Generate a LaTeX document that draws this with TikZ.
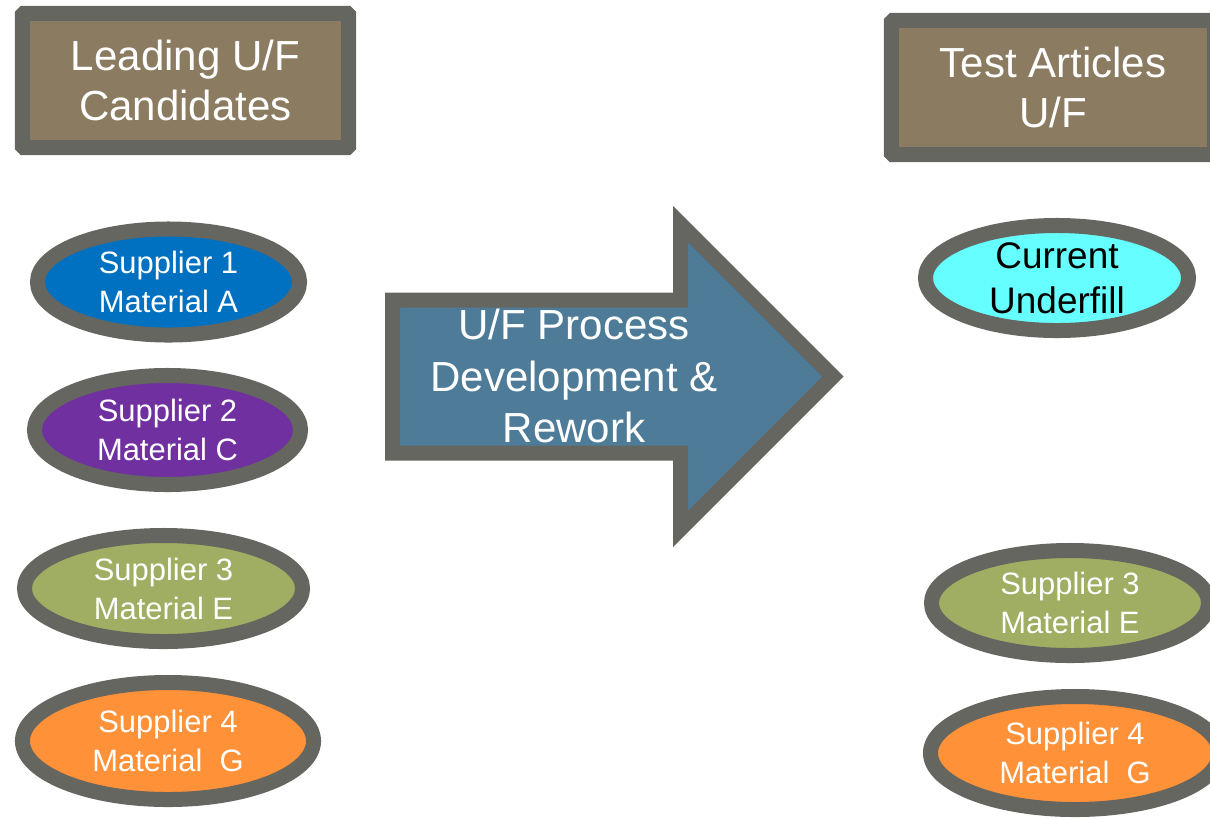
\documentclass[tikz,border=0pt]{standalone}
\usepackage{fontspec}
\setmainfont{Liberation Sans}
\usetikzlibrary{shapes.geometric}

\definecolor{edgegray}{RGB}{102,102,96}
\definecolor{headbrown}{RGB}{139,123,97}
\definecolor{flowblue}{RGB}{78,124,152}
\definecolor{supblue}{RGB}{0,112,192}
\definecolor{suppurple}{RGB}{112,48,160}
\definecolor{supolive}{RGB}{159,174,98}
\definecolor{suporange}{RGB}{255,145,56}
\definecolor{curcyan}{RGB}{102,255,255}

\begin{document}
\begin{tikzpicture}[x=0.025cm, y=-0.025cm,
    header/.style={draw=edgegray, fill=headbrown, line width=0.375cm, rounded corners=1pt,
        text=white, align=center, minimum width=#1, minimum height=3.35cm,
        font=\fontsize{29.9}{35.6}\selectfont},
    oval/.style={ellipse, draw=edgegray, fill=#1, line width=0.375cm, inner sep=-0.3cm,
        text=white, align=center, font=\fontsize{22}{27.7}\selectfont}]
    \useasboundingbox (0,0) rectangle (1210,818);

    % column headings
    \node[header=8.15cm] (lead) at (185.5,80.5) {Leading U/F\\Candidates};
    \node[header=8.075cm] (test) at (1053,87.5) {Test Articles\\U/F};

    % candidates
    \node[oval=supblue, minimum width=6.55cm, minimum height=2.65cm] (s1) at (168.5,282) {Supplier 1\\Material A};
    \node[oval=suppurple, minimum width=6.65cm, minimum height=2.725cm] (s2) at (167.5,430) {Supplier 2\\Material C};
    \node[oval=supolive, minimum width=6.95cm, minimum height=2.65cm] (s3) at (163.5,588.5) {Supplier 3\\Material E};
    \node[oval=suporange, minimum width=7.275cm, minimum height=2.925cm] (s4) at (168,741) {Supplier 4\\Material~~G};

    % process arrow
    \draw[draw=edgegray, fill=flowblue, line width=0.375cm] (392.5,300) -- (680.5,300) -- (680.5,224)
        -- (833,376.5) -- (680.5,529) -- (680.5,453) -- (392.5,453) -- cycle;
    \node[text=white, align=center, font=\fontsize{29.9}{36.3}\selectfont] (proc) at (574,376) {U/F Process\\Development \&\\Rework};

    % test articles
    \node[oval=curcyan, text=black, font=\fontsize{26.3}{32}\selectfont, minimum width=6.575cm, minimum height=2.625cm] (cur) at (1057,278) {Current\\Underfill};
    \node[oval=supolive, minimum width=6.925cm, minimum height=2.625cm] (t3) at (1070,603) {Supplier 3\\Material E};
    \node[oval=suporange, minimum width=7.225cm, minimum height=2.825cm] (t4) at (1075,753) {Supplier 4\\Material~~G};
\end{tikzpicture}
\end{document}
